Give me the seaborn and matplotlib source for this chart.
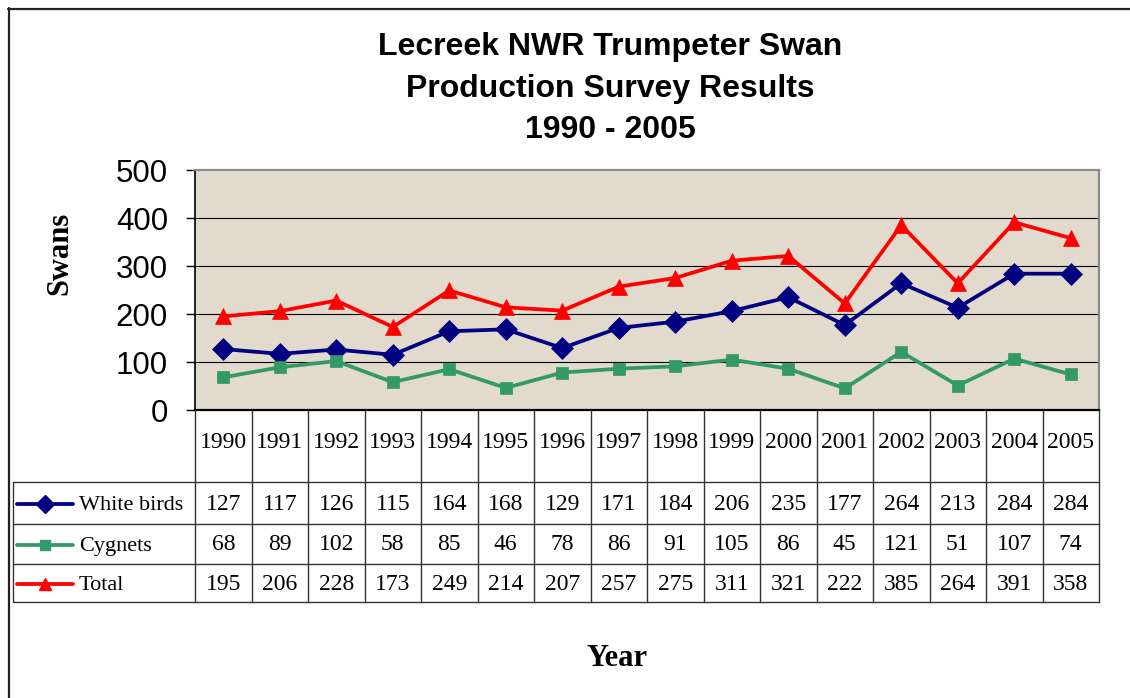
import matplotlib
matplotlib.use("Agg")
import matplotlib.pyplot as plt
from matplotlib.lines import Line2D
import seaborn as sns
import pandas as pd

years = [1990, 1991, 1992, 1993, 1994, 1995, 1996, 1997,
         1998, 1999, 2000, 2001, 2002, 2003, 2004, 2005]
white_birds = [127, 117, 126, 115, 164, 168, 129, 171, 184, 206, 235, 177, 264, 213, 284, 284]
cygnets = [68, 89, 102, 58, 85, 46, 78, 86, 91, 105, 86, 45, 121, 51, 107, 74]
total = [195, 206, 228, 173, 249, 214, 207, 257, 275, 311, 321, 222, 385, 264, 391, 358]
series_names = ["White birds", "Cygnets", "Total"]
y_ticks = [0, 100, 200, 300, 400, 500]

df = pd.DataFrame({"pos": range(len(years)), "year": years,
                   "White birds": white_birds, "Cygnets": cygnets, "Total": total})

# style per series: colour, marker, marker size
styles = {
    "White birds": ("#000080", "D", 11),
    "Cygnets": ("#339966", "s", 8.5),
    "Total": ("#ff0000", "^", 11),
}

W, H = 1130, 698
def fx(x):
    return x / W
def fy(y):
    return 1 - y / H

sns.set_theme(style="white")
plt.rcParams["font.family"] = ["Liberation Sans", "DejaVu Sans"]
plt.rcParams["text.color"] = "black"
plt.rcParams["ytick.color"] = "black"
plt.rcParams["xtick.color"] = "black"

fig = plt.figure(figsize=(W / 100, H / 100), dpi=100)
fig.patch.set_facecolor("white")

# plot area in pixels
L, R, T, B = 195, 1099, 170, 410
ax = fig.add_axes([fx(L), fy(B), fx(R - L), (B - T) / H])
ax.set_facecolor("#e2dacd")

for name in series_names:
    col, mk, ms = styles[name]
    sns.lineplot(data=df, x="pos", y=name, ax=ax, color=col, linewidth=2.7,
                 marker=mk, markersize=ms, markeredgecolor=col,
                 markeredgewidth=0.5, legend=False, zorder=3)

ax.set_xlim(-0.5, len(years) - 0.5)
ax.set_ylim(0, 500)
ax.set_yticks(y_ticks)
ax.set_yticklabels([str(v) for v in y_ticks], fontsize=22.5, family="Liberation Sans",
                   color="black")
ax.set_xticks([])
ax.tick_params(axis="y", direction="out", length=6.5, width=1, color="black", pad=13, left=True)
ax.set_xlabel("")
ax.set_ylabel("")
for v in y_ticks[1:-1]:
    ax.axhline(v, color="black", lw=0.8, zorder=1)
ax.spines["left"].set_color("black")
ax.spines["bottom"].set_color("black")
ax.spines["left"].set_linewidth(1.2)
ax.spines["bottom"].set_linewidth(1.6)
ax.spines["top"].set_color("#8a8a8a")
ax.spines["right"].set_color("#8a8a8a")
ax.spines["top"].set_linewidth(1.6)
ax.spines["right"].set_linewidth(1.6)

# --- title and axis labels ---
title_lines = ["Lecreek NWR Trumpeter Swan", "Production Survey Results", "1990 - 2005"]
for i, line in enumerate(title_lines):
    fig.text(fx(610), fy(47 + 41.5 * i), line, ha="center", va="center",
             fontsize=23, fontweight="bold", family="Liberation Sans", color="black")
fig.text(fx(60), fy(253), "Swans", rotation=90, ha="center", va="center",
         fontsize=22, fontweight="bold", family="Liberation Serif", color="black")
fig.text(fx(617), fy(659), "Year", ha="center", va="center",
         fontsize=22, fontweight="bold", family="Liberation Serif", color="black")

# --- data table under the plot ---
line_col = "#333333"
n = len(years)
col_w = (R - L) / n
row_y = [482, 524, 564, 602]
def hline(y, x0, x1):
    fig.add_artist(Line2D([fx(x0), fx(x1)], [fy(y), fy(y)], color=line_col, lw=1.0))
def vline(x, y0, y1):
    fig.add_artist(Line2D([fx(x), fx(x)], [fy(y0), fy(y1)], color=line_col, lw=1.0))

for y in row_y:
    hline(y, 13, R)
vline(13, row_y[0], row_y[-1])
for i in range(n + 1):
    vline(L + i * col_w, B, row_y[-1])

tfont = dict(family="Liberation Serif", fontsize=17, ha="center", va="center", color="black")
for i, yr in enumerate(years):
    fig.text(fx(L + (i + 0.5) * col_w), fy(443), str(yr), **tfont)

rows = {"White birds": white_birds, "Cygnets": cygnets, "Total": total}
for r, name in enumerate(series_names):
    yc = (row_y[r] + row_y[r + 1]) / 2 + 1
    col, mk, ms = styles[name]
    fig.add_artist(Line2D([fx(17), fx(73)], [fy(yc), fy(yc)], color=col, lw=2.7))
    fig.add_artist(Line2D([fx(45)], [fy(yc)], color=col, marker=mk, markersize=ms * 0.8,
                          markeredgecolor=col, linestyle="none"))
    fig.text(fx(79), fy(yc + 2), name, family="Liberation Serif", fontsize=16,
             ha="left", va="center", color="black")
    for i, v in enumerate(rows[name]):
        fig.text(fx(L + (i + 0.5) * col_w), fy(yc), str(v), **tfont)

# outer chart border (runs off the right and bottom of the image)
fig.add_artist(Line2D([fx(8.5), fx(8.5)], [fy(8), fy(H + 5)], color="#222222", lw=1.6))
fig.add_artist(Line2D([fx(8), fx(W + 5)], [fy(8.5), fy(8.5)], color="#222222", lw=1.6))

fig.savefig("out.png", dpi=100, facecolor="white")
